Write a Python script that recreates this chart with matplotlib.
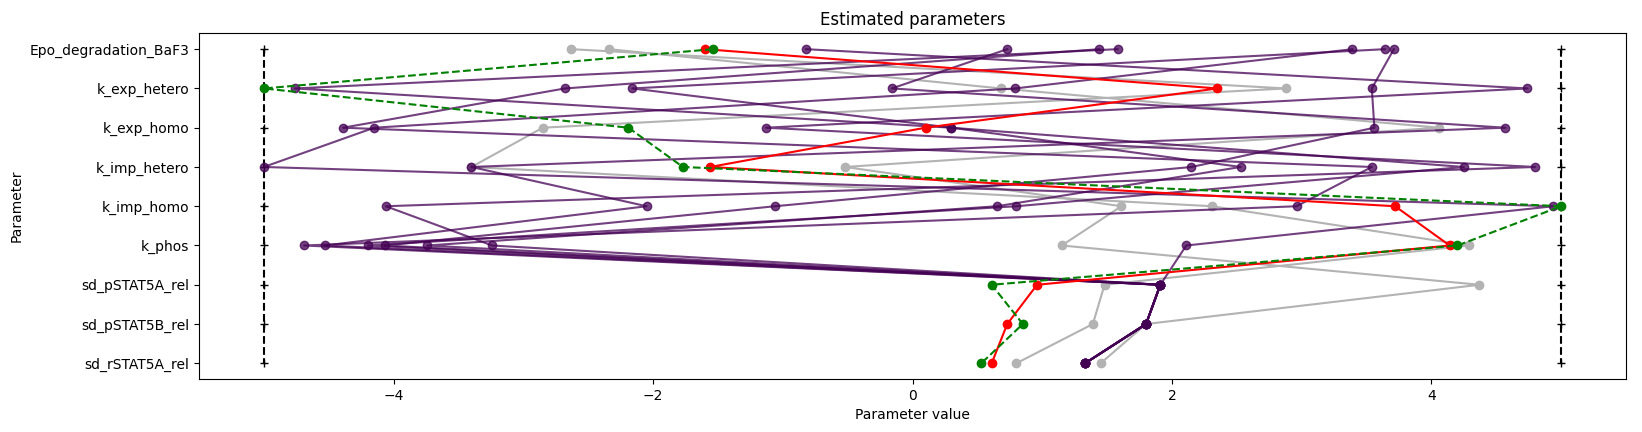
import numpy as np
import matplotlib
matplotlib.use("Agg")
import matplotlib.pyplot as plt

params = ['Epo_degradation_BaF3', 'k_exp_hetero', 'k_exp_homo', 'k_imp_hetero',
          'k_imp_homo', 'k_phos', 'sd_pSTAT5A_rel', 'sd_pSTAT5B_rel', 'sd_rSTAT5A_rel']

lb = [-5] * 9
ub = [5] * 9

# best start (red) and reference (green, dashed)
best = [-1.60, 2.35, 0.10, -1.56, 3.72, 4.14, 0.96, 0.73, 0.61]
ref = [-1.54, -5.0, -2.19, -1.77, 5.0, 4.20, 0.61, 0.85, 0.53]

# unclustered starts (grey)
grey_a = [-2.63, 2.88, -2.85, -3.40, 2.31, 4.29, 1.48, 1.39, 0.80]
grey_b = [-2.34, 0.68, 4.06, -0.52, 1.61, 1.15, 4.37, 1.80, 1.45]

# clustered starts (purple)
p1 = [-0.82, 4.74, -1.13, 4.80, -4.06, -3.24, 1.91, 1.80, 1.33]
p2 = [0.73, -0.16, 4.57, -3.40, -2.05, -4.53, 1.91, 1.80, 1.33]
p3 = [1.44, -2.68, -4.39, 3.54, 2.96, -4.69, 1.91, 1.80, 1.33]
p4 = [1.58, -4.76, 0.30, 4.25, 0.80, -4.20, 1.91, 1.80, 1.33]
p5 = [3.39, 0.79, -4.15, -5.0, 4.94, 2.11, 1.91, 1.80, 1.33]
p6 = [3.64, -2.16, 0.30, 2.53, 0.65, -3.74, 1.91, 1.80, 1.33]
p7 = [3.71, 3.54, 3.56, 2.15, -1.06, -4.07, 1.91, 1.80, 1.33]

grey_starts = [grey_a, grey_b]
purple_starts = [p1, p2, p3, p4, p5, p6, p7]

y = np.arange(len(params))

fig = plt.figure(figsize=(16.42, 4.32), dpi=100)
ax = fig.add_axes([0.1212, 0.1227, 0.8691, 0.7998])

# bounds
ax.plot(lb, y, 'k--', marker='+')
ax.plot(ub, y, 'k--', marker='+')

for s in grey_starts:
    ax.plot(s, y, color=(0.7, 0.7, 0.7, 1.0), marker='o')

for s in purple_starts:
    ax.plot(s, y, color=(0.267, 0.005, 0.329, 0.75), marker='o')

ax.plot(best, y, color='red', marker='o')
ax.plot(ref, y, color='green', linestyle='--', marker='o')

ax.set_yticks(y)
ax.set_yticklabels(params)
ax.invert_yaxis()
ax.set_xlabel("Parameter value")
ax.set_ylabel("Parameter")
ax.set_title("Estimated parameters")

fig.savefig("out.png", dpi=100)
